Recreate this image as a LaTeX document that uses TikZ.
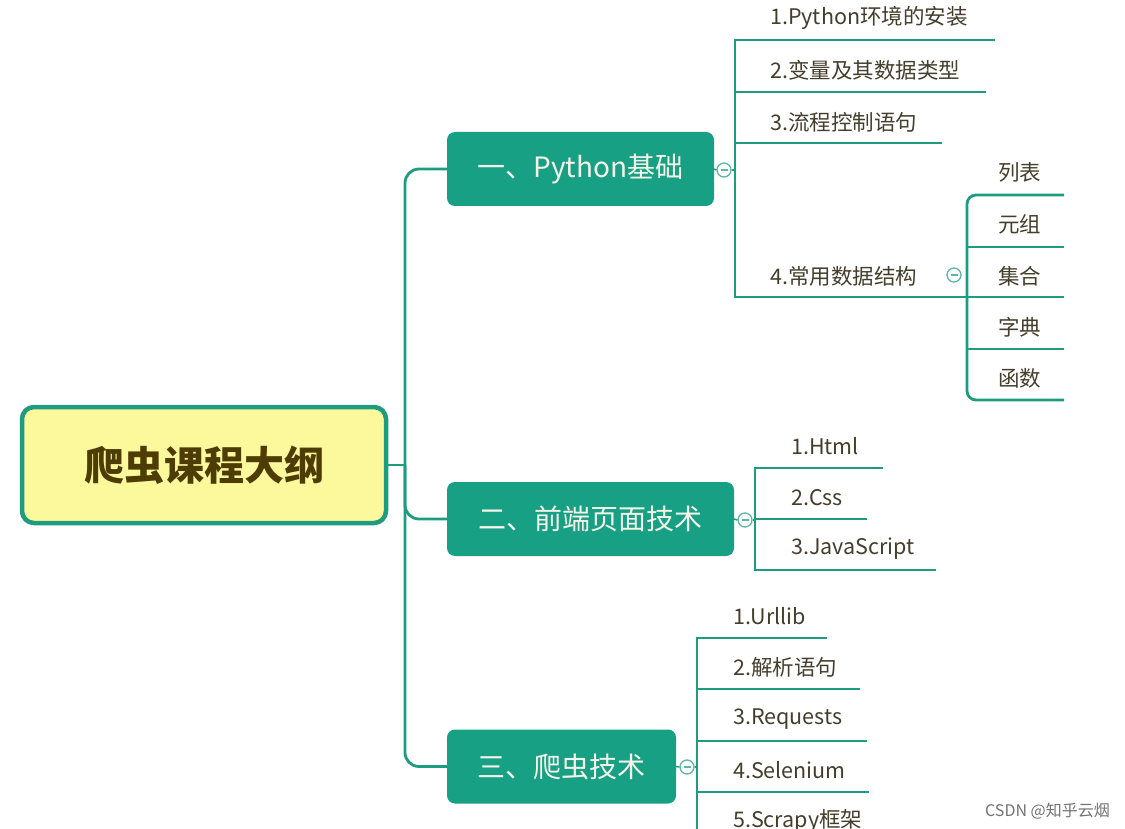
\documentclass[tikz,border=0pt]{standalone}
\usepackage{fontspec}
\setmainfont{Noto Sans CJK SC}
\definecolor{teal1}{HTML}{1E9C80}
\definecolor{teal2}{HTML}{18A085}
\definecolor{foldc}{HTML}{5DB8A2}
\definecolor{leafc}{HTML}{453E2C}
\definecolor{rootfill}{HTML}{FCF89C}
\definecolor{roottxt}{HTML}{4E3C05}
\definecolor{branchtxt}{HTML}{F4F4E8}
\begin{document}
\begin{tikzpicture}[x=1pt,y=-1pt,
  conn/.style={draw=teal1, line width=2.8pt},
  leaf/.style={anchor=west, inner sep=0pt, text=leafc, font=\fontsize{21.5}{21.5}\selectfont},
  branch/.style={rounded corners=8pt, fill=teal2, text=branchtxt, font=\fontsize{28}{28}\selectfont, minimum height=74pt, inner sep=0pt},
  fold/.style={circle, draw=foldc, fill=white, line width=1.3pt, minimum size=14pt, inner sep=0pt,
    path picture={\draw[foldc, line width=1.1pt] ([xshift=-3.5pt]path picture bounding box.center) -- ([xshift=3.5pt]path picture bounding box.center);}}
]
\useasboundingbox (0,0) rectangle (1125,829);
\clip (0,0) rectangle (1125,829);
\fill[white] (0,0) rectangle (1125,829);

% root
\node[draw=teal1, fill=rootfill, line width=4.5pt, rounded corners=12pt, minimum width=364pt, minimum height=116pt, inner sep=0pt,
  text=roottxt, font=\fontsize{40}{40}\selectfont\bfseries] (root) at (204,465) {爬虫课程大纲};

% branches
\node[branch, minimum width=267pt] (b1) at (580.5,169) {一、Python基础};
\node[branch, minimum width=287pt] (b2) at (590.5,519) {二、前端页面技术};
\node[branch, minimum width=229pt] (b3) at (561.5,766.5) {三、爬虫技术};

\coordinate (rj) at (405,465);
\draw[conn] (root.east) -- (rj);
\draw[conn, rounded corners=14pt] (rj) |- (b1.west);
\draw[conn, rounded corners=14pt] (rj) |- (b2.west);
\draw[conn, rounded corners=14pt] (rj) |- (b3.west);

% fold markers
\node[fold] (f1) at (724,170) {};
\node[fold] (f2) at (745,520) {};
\node[fold] (f3) at (687,767) {};
\coordinate (j1) at (735,170);
\coordinate (j2) at (755,520);
\coordinate (j3) at (697,767);
\draw[conn, line width=1.5pt] (b1.east) -- (f1.west);
\draw[conn, line width=1.5pt] (b2.east) -- (f2.west);
\draw[conn, line width=1.5pt] (b3.east) -- (f3.west);
\draw[conn] (f1.east) -- (j1);
\draw[conn] (f2.east) -- (j2);
\draw[conn] (f3.east) -- (j3);

% branch 1 leaves
\node[leaf] (t11) at (770,18) {1.Python环境的安装};
\node[leaf] (t12) at (770,70) {2.变量及其数据类型};
\node[leaf] (t13) at (770,122) {3.流程控制语句};
\node[leaf] (t14) at (770,276) {4.常用数据结构};
\coordinate (e11) at (995,40);
\coordinate (e12) at (986,92);
\coordinate (e13) at (942,143);
\coordinate (e14) at (967,297);
\draw[conn] (j1) |- (e11);
\draw[conn] (j1) |- (e12);
\draw[conn] (j1) |- (e13);
\draw[conn] (j1) |- (e14);
\node[fold] (f4) at (954,275) {};

% sub-branch
\coordinate (sj) at (967,297);
\node[leaf] (s1) at (998,172) {列表};
\node[leaf] (s2) at (998,224) {元组};
\node[leaf] (s3) at (998,276) {集合};
\node[leaf] (s4) at (998,327) {字典};
\node[leaf] (s5) at (998,378) {函数};
\coordinate (es1) at (1064,195);
\coordinate (es2) at (1064,247);
\coordinate (es3) at (1064,297);
\coordinate (es4) at (1064,349);
\coordinate (es5) at (1064,400);
\draw[conn, rounded corners=9pt] (es1) -| (sj) |- (es5);
\draw[conn] (sj) |- (es2);
\draw[conn] (sj) -- (es3);
\draw[conn] (sj) |- (es4);

% branch 2 leaves
\node[leaf] (t21) at (791,446) {1.Html};
\node[leaf] (t22) at (791,498) {2.Css};
\node[leaf] (t23) at (791,549) {3.JavaScript};
\coordinate (e21) at (883,468);
\coordinate (e22) at (867,519);
\coordinate (e23) at (936,570);
\draw[conn] (j2) |- (e21);
\draw[conn] (j2) |- (e22);
\draw[conn] (j2) |- (e23);

% branch 3 leaves
\node[leaf] (t31) at (733,616) {1.Urllib};
\node[leaf] (t32) at (733,667) {2.解析语句};
\node[leaf] (t33) at (733,719) {3.Requests};
\node[leaf] (t34) at (733,770) {4.Selenium};
\node[leaf] (t35) at (733,821) {5.Scrapy框架};
\coordinate (e31) at (827,638);
\coordinate (e32) at (860,689);
\coordinate (e33) at (867,741);
\coordinate (e34) at (869,792);
\coordinate (e35) at (875,843);
\draw[conn] (j3) |- (e31);
\draw[conn] (j3) |- (e32);
\draw[conn] (j3) |- (e33);
\draw[conn] (j3) |- (e34);
\draw[conn] (j3) |- (e35);

% watermark
\node[anchor=east, inner sep=0pt, text=black!55, font=\fontsize{16}{16}\selectfont] (wm) at (1110,811) {CSDN @知乎云烟};
\end{tikzpicture}
\end{document}
